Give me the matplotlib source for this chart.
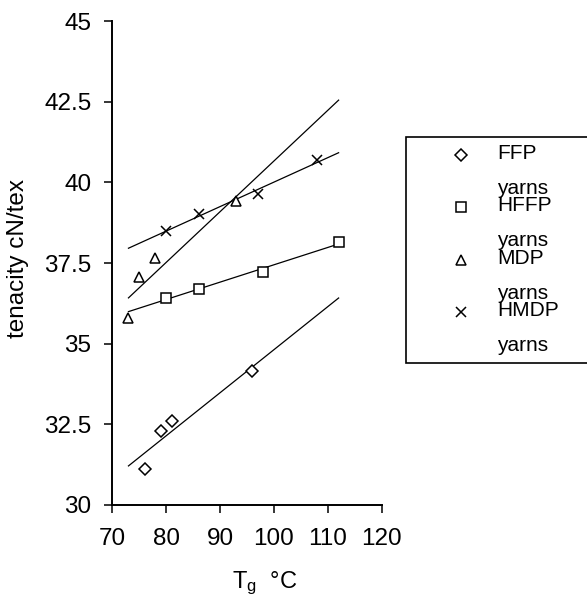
import numpy as np
import matplotlib
matplotlib.use("Agg")
import matplotlib.pyplot as plt
from matplotlib.ticker import FuncFormatter
from matplotlib.legend_handler import HandlerLine2D

plt.rcParams["font.family"] = ["Liberation Sans", "DejaVu Sans"]
plt.rcParams["mathtext.fontset"] = "custom"
plt.rcParams["mathtext.rm"] = "Liberation Sans"
plt.rcParams["mathtext.it"] = "Liberation Sans:italic"

# Glass transition temperature (deg C) vs tenacity (cN/tex) for each yarn type
series_names = ["FFP\nyarns", "HFFP\nyarns", "MDP\nyarns", "HMDP\nyarns"]
series_markers = ["D", "s", "^", "x"]

ffp_tg = [76, 79, 81, 96]
ffp_ten = [31.11, 32.29, 32.61, 34.15]

hffp_tg = [80, 86, 98, 112]
hffp_ten = [36.43, 36.68, 37.22, 38.16]

mdp_tg = [73, 75, 78, 93]
mdp_ten = [35.78, 37.07, 37.65, 39.42]

hmdp_tg = [80, 86, 97, 108]
hmdp_ten = [38.49, 39.02, 39.64, 40.69]

xticks = [70, 80, 90, 100, 110, 120]
yticks = [30, 32.5, 35, 37.5, 40, 42.5, 45]

all_x = [ffp_tg, hffp_tg, mdp_tg, hmdp_tg]
all_y = [ffp_ten, hffp_ten, mdp_ten, hmdp_ten]


class TopLineHandler(HandlerLine2D):
    """Places the legend marker beside the first line of a two-line label."""

    def __init__(self, shift, **kw):
        super().__init__(**kw)
        self.shift = shift

    def create_artists(self, legend, orig_handle, xdescent, ydescent,
                       width, height, fontsize, trans):
        artists = super().create_artists(legend, orig_handle, xdescent,
                                         ydescent, width, height, fontsize,
                                         trans)
        for a in artists:
            a.set_ydata(np.asarray(a.get_ydata(), dtype=float)
                        + self.shift * fontsize)
        return artists


fig = plt.figure(figsize=(5.87, 6.01), dpi=100)
ax = fig.add_axes([0.1913, 0.1602, 0.459, 0.8043])

# trend lines span the full range of measured temperatures
x_lo = min(min(v) for v in all_x)
x_hi = max(max(v) for v in all_x)
marker_sizes = {"D": 6.2, "s": 6.8, "^": 7.2, "x": 6.8}
handles = []
for xs, ys, m in zip(all_x, all_y, series_markers):
    slope, icpt = np.polyfit(xs, ys, 1)
    fx = np.array([x_lo, x_hi], dtype=float)
    ax.plot(fx, slope * fx + icpt, color="black", lw=0.9, zorder=2)
    h, = ax.plot(xs, ys, linestyle="none", marker=m, mfc="white",
                 mec="black", mew=1.1, ms=marker_sizes[m], zorder=3)
    handles.append(h)

ax.set_xlim(70, 120)
ax.set_ylim(30, 45)
ax.set_xticks(xticks)
ax.set_yticks(yticks)
ax.yaxis.set_major_formatter(FuncFormatter(lambda v, p: f"{v:g}"))

for s in ["top", "right"]:
    ax.spines[s].set_visible(False)
for s in ["left", "bottom"]:
    ax.spines[s].set_linewidth(1.4)
ax.tick_params(axis="both", direction="out", length=6, width=1.1,
               labelsize=17.5, pad=9)
ax.tick_params(axis="x", pad=11)

ax.set_ylabel("tenacity cN/tex", fontsize=17.5)
ax.yaxis.set_label_coords(-0.309, 0.51)
ax.set_xlabel(r"T$_{\mathrm{g}}$  °C", fontsize=17)
ax.xaxis.set_label_coords(0.567, -0.135)

leg = fig.legend(handles, series_names, loc="upper left",
                 bbox_to_anchor=(0.691, 0.0, 0.36, 0.7725),
                 bbox_transform=fig.transFigure, mode="expand",
                 fontsize=15, frameon=True, fancybox=False,
                 framealpha=1, edgecolor="black", borderaxespad=0,
                 borderpad=0.35, handlelength=4.6, handletextpad=-0.55,
                 labelspacing=-0.08,
                 handler_map={h: TopLineHandler(0.78) for h in handles})
leg.get_frame().set_linewidth(1.2)
for t in leg.get_texts():
    t.set_linespacing(2.07)

fig.savefig("out.png", dpi=100)
